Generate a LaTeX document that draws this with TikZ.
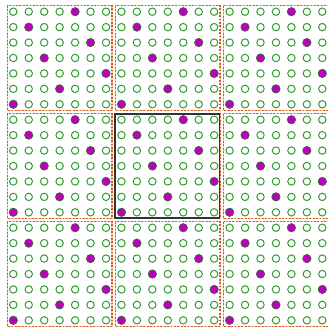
\documentclass[tikz,border=0pt]{standalone}
\begin{document}
\begin{tikzpicture}[x=1pt,y=-1pt,
  ring/.style={draw={rgb,255:red,50;green,155;blue,50}, line width=1pt},
  hit/.style={draw={rgb,255:red,40;green,110;blue,40}, fill={rgb,255:red,190;green,0;blue,190}, line width=0.6pt},
  tileunder/.style={draw={rgb,255:red,245;green,205;blue,185}, line width=1.2pt},
  tile/.style={draw={rgb,255:red,210;green,95;blue,30}, line width=1.4pt, dash pattern=on 1.8pt off 1.6pt},
  fund/.style={draw=black!80, line width=1.6pt}]
\useasboundingbox (0,0) rectangle (328,327);
\def\sx{15.45}\def\sy{15.43}\def\ox{13.3}\def\oy{11.7}
\foreach \i in {0,1,2}{\foreach \j in {0,1,2}{
  \draw[tileunder] ({\ox+7*\i*\sx-6},{\oy+7*\j*\sy-6}) rectangle ({\ox+(7*\i+6)*\sx+6},{\oy+(7*\j+6)*\sy+6});
  \draw[tile] ({\ox+7*\i*\sx-6},{\oy+7*\j*\sy-6}) rectangle ({\ox+(7*\i+6)*\sx+6},{\oy+(7*\j+6)*\sy+6});
}}
\foreach \C in {0,...,20}{\foreach \R in {0,...,20}{
  \pgfmathtruncatemacro\c{mod(\C,7)}
  \pgfmathtruncatemacro\r{mod(\R,7)}
  \pgfmathtruncatemacro\f{mod(4+4*\r,7)}
  \ifnum\c=\f
    \draw[hit] ({\ox+\C*\sx},{\oy+\R*\sy}) circle (4.2);
  \else
    \draw[ring] ({\ox+\C*\sx},{\oy+\R*\sy}) circle (3.7);
  \fi
}}
\draw[fund] ({\ox+7*\sx-6.5},{\oy+7*\sy-6}) rectangle ({\ox+13*\sx+5.5},{\oy+13*\sy+6});
\end{tikzpicture}
\end{document}
